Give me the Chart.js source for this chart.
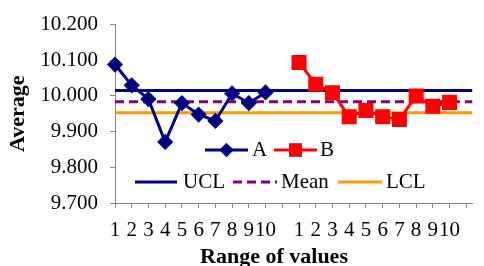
<!DOCTYPE html>
<html>
<head>
<meta charset="utf-8">
<script src="https://cdn.jsdelivr.net/npm/chart.js@4.4.1/dist/chart.umd.min.js"></script>
<style>
  html, body { margin: 0; padding: 0; background: #fff; }
  #wrap { position: relative; width: 484px; height: 266px; }
</style>
</head>
<body>
<div id="wrap"><canvas id="c" width="484" height="266"></canvas></div>
<script>
// ---- data ----
const xTickLabels = ['1','2','3','4','5','6','7','8','9','10','','1','2','3','4','5','6','7','8','9','10',''];
const seriesA = [10.088, 10.030, 9.991, 9.871, 9.980, 9.948, 9.930, 10.007, 9.980, 10.010];
const seriesB = [10.094, 10.033, 10.009, 9.942, 9.959, 9.942, 9.934, 10.000, 9.971, 9.982];
const uclValue = 10.015;
const meanValue = 9.984;
const lclValue = 9.953;
const yTicks = [9.7, 9.8, 9.9, 10.0, 10.1, 10.2];
const seriesNames = ['A', 'B', 'UCL', 'Mean', 'LCL'];

// ---- build library structures ----
const startB = seriesA.length + 1;           // one empty category between groups
const xMax = xTickLabels.length - 1 + 0.37;   // plot area runs a little past the last tick
const ptsA = seriesA.map((v, i) => ({x: i, y: v}));
const ptsB = seriesB.map((v, i) => ({x: startB + i, y: v}));
const hLine = v => [{x: 0, y: v}, {x: xMax, y: v}];

const NAVY = '#000080', RED = '#ff0000', PURPLE = '#800080', ORANGE = '#ff9900';
const SERIF = "'Liberation Serif', 'Times New Roman', serif";

const legendLayout = [
  {ds: 0, y: 150, x0: 205, x1: 248, tx: 252},
  {ds: 1, y: 150, x0: 274, x1: 317, tx: 320},
  {ds: 2, y: 182, x0: 135, x1: 177, tx: 183},
  {ds: 3, y: 182, x0: 233, x1: 277, tx: 281},
  {ds: 4, y: 182, x0: 338, x1: 382, tx: 386}
];

const overlayPlugin = {
  id: 'overlay',
  afterDraw(chart) {
    const ctx = chart.ctx;
    ctx.save();
    // legend
    legendLayout.forEach(it => {
      const ds = chart.data.datasets[it.ds];
      ctx.save();
      ctx.strokeStyle = ds.borderColor;
      ctx.lineWidth = ds.borderWidth;
      ctx.setLineDash(ds.borderDash || []);
      ctx.beginPath();
      ctx.moveTo(it.x0, it.y);
      ctx.lineTo(it.x1, it.y);
      ctx.stroke();
      ctx.restore();
      if (ds.legendMarker) {
        ctx.save();
        ctx.setLineDash([]);
        Chart.helpers.drawPoint(ctx, {
          pointStyle: ds.pointStyle,
          radius: ds.legendMarker,
          borderWidth: 1,
          rotation: 0
        }, (it.x0 + it.x1) / 2, it.y);
        ctx.fillStyle = ds.pointBackgroundColor;
        ctx.strokeStyle = ds.pointBorderColor;
        ctx.fill();
        ctx.stroke();
        ctx.restore();
      }
      ctx.fillStyle = '#000';
      ctx.font = "21px " + SERIF;
      ctx.textAlign = 'left';
      ctx.textBaseline = 'middle';
      ctx.fillText(ds.label, it.tx, it.y);
    });
    // x axis title
    ctx.fillStyle = '#000';
    ctx.font = "bold 22px " + SERIF;
    ctx.textAlign = 'center';
    ctx.textBaseline = 'alphabetic';
    ctx.fillText('Range of values', 274, 263);
    ctx.restore();
  }
};

new Chart(document.getElementById('c'), {
  type: 'line',
  data: {
    datasets: [
      {label: seriesNames[0], data: ptsA, borderColor: NAVY, backgroundColor: NAVY,
       pointBackgroundColor: NAVY, pointBorderColor: NAVY, borderWidth: 3,
       pointStyle: 'rectRot', pointRadius: 6, pointHoverRadius: 6, legendMarker: 5,
       tension: 0, clip: false},
      {label: seriesNames[1], data: ptsB, borderColor: RED, backgroundColor: RED,
       pointBackgroundColor: RED, pointBorderColor: RED, borderWidth: 3,
       pointStyle: 'rect', pointRadius: 8.5, pointHoverRadius: 8.5, legendMarker: 7,
       tension: 0, clip: false},
      {label: seriesNames[2], data: hLine(uclValue), borderColor: NAVY, borderWidth: 3,
       pointRadius: 0, tension: 0},
      {label: seriesNames[3], data: hLine(meanValue), borderColor: PURPLE, borderWidth: 3,
       borderDash: [9, 5], pointRadius: 0, tension: 0},
      {label: seriesNames[4], data: hLine(lclValue), borderColor: ORANGE, borderWidth: 3,
       pointRadius: 0, tension: 0}
    ]
  },
  options: {
    responsive: false,
    animation: false,
    events: [],
    layout: {padding: {top: 20, right: 0, bottom: 0, left: 0}},
    plugins: {legend: {display: false}, tooltip: {enabled: false}, title: {display: false}},
    scales: {
      x: {
        type: 'linear',
        min: 0,
        max: xMax,
        afterFit(s) { s.height = 63; },
        afterBuildTicks(s) { s.ticks = xTickLabels.map((l, i) => ({value: i})); },
        ticks: {
          stepSize: 1, autoSkip: false, maxRotation: 0, minRotation: 0, includeBounds: false,
          padding: 10, color: '#000',
          font: {family: SERIF, size: 21},
          callback: (v) => xTickLabels[v] ?? ''
        },
        grid: {drawOnChartArea: false, drawTicks: true, tickLength: 5, color: '#888888', lineWidth: 1},
        border: {display: true, color: '#888888', width: 1},
        title: {display: false}
      },
      y: {
        type: 'linear',
        min: yTicks[0],
        max: yTicks[yTicks.length - 1],
        afterFit(s) { s.width = 115; },
        afterBuildTicks(s) { s.ticks = yTicks.map(v => ({value: v})); },
        ticks: {
          stepSize: 0.1, padding: 12, color: '#000',
          font: {family: SERIF, size: 21},
          callback: (v) => Number(v).toFixed(3)
        },
        grid: {drawOnChartArea: false, drawTicks: true, tickLength: 5, color: '#888888', lineWidth: 1},
        border: {display: true, color: '#888888', width: 1},
        title: {
          display: true, text: 'Average', color: '#000',
          font: {family: SERIF, size: 22, weight: 'bold'},
          padding: {top: 5, bottom: 0}
        }
      }
    }
  },
  plugins: [overlayPlugin]
});
</script>
</body>
</html>
